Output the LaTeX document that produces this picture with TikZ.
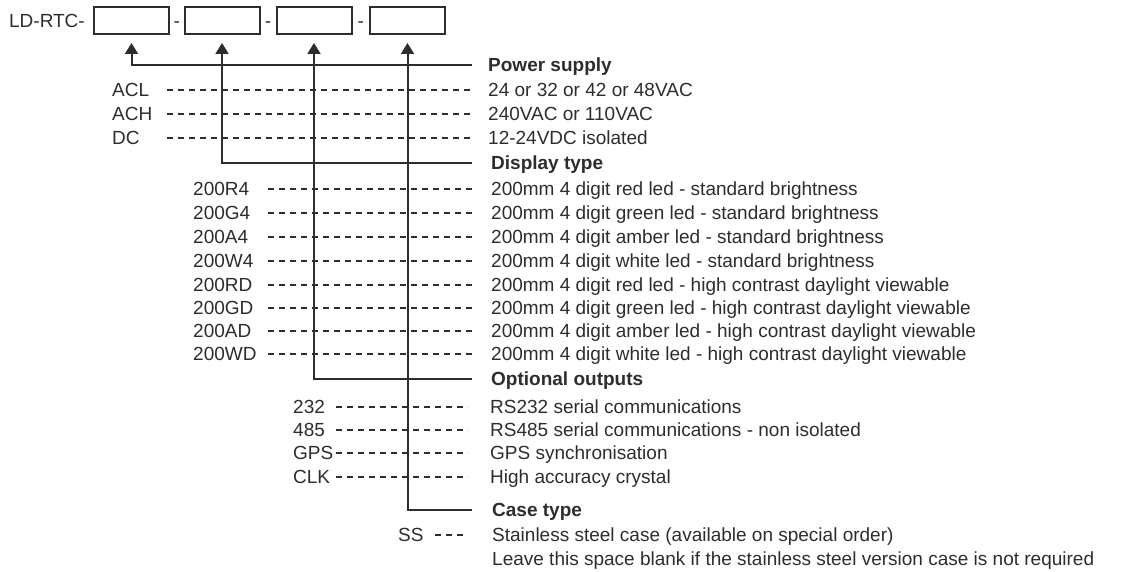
\documentclass[tikz,border=0pt]{standalone}
\usepackage{fontspec}
\setmainfont{Liberation Sans}
\usetikzlibrary{arrows.meta,calc}
\definecolor{ink}{RGB}{45,45,45}
\newcommand\fs{\fontsize{19}{22}\selectfont}
\begin{document}
\begin{tikzpicture}[x=1pt,y=-1pt,
  txt/.style={anchor=west,inner sep=0pt,text height=13.6pt,text depth=0pt,font=\fs,text=ink},
  hdr/.style={txt,font=\fs\bfseries},
  slot/.style={draw=ink,line width=2pt,minimum width=75pt,minimum height=27pt,inner sep=0pt},
  conn/.style={draw=ink,line width=2pt,-{Triangle[width=13pt,length=11pt]},shorten >=8pt},
  dl/.style={draw=ink,line width=1.5pt,dash pattern=on 6pt off 5pt}]
\useasboundingbox (0,0) rectangle (1142,572);
% code slots
\node[slot] (b1) at (131.5,20.5) {};
\node[slot] (b2) at (222,20.5) {};
\node[slot] (b3) at (314,20.5) {};
\node[slot] (b4) at (407.5,20.5) {};
\node[txt,anchor=east] (pre) at ([xshift=-8pt]b1.west) {LD-RTC-};
\node[txt,anchor=center] (h1) at ($(b1.east)!.5!(b2.west)$) {-};
\node[txt,anchor=center] (h2) at ($(b2.east)!.5!(b3.west)$) {-};
\node[txt,anchor=center] (h3) at ($(b3.east)!.5!(b4.west)$) {-};
% headers
\node[hdr] (hps) at (488,65) {Power supply};
\node[hdr] (hdt) at (491,163) {Display type};
\node[hdr] (hoo) at (491,379) {Optional outputs};
\node[hdr] (hct) at (492,510) {Case type};
% connectors
\draw[conn] ([xshift=-16pt]hps.west) -| (b1.south);
\draw[conn] ([xshift=-19pt]hdt.west) -| (b2.south);
\draw[conn] ([xshift=-19pt]hoo.west) -| (b3.south);
\draw[conn] ([xshift=-20pt]hct.west) -| (b4.south);
% power supply
\coordinate (ps0) at (167,0); \coordinate (ps1) at (470,0);
\foreach \n/\lab/\desc/\y in {acl/ACL/{24 or 32 or 42 or 48VAC}/90,
  ach/ACH/{240VAC or 110VAC}/114, dc/DC/{12-24VDC isolated}/138}{
  \node[txt] (l\n) at (112,\y) {\lab};
  \node[txt] (d\n) at (488,\y) {\desc};
  \draw[dl] (l\n.west -| ps0) -- (d\n.west -| ps1);
}
% display type
\coordinate (dt0) at (268,0); \coordinate (dt1) at (473,0);
\foreach \n/\lab/\desc/\y in {
  r4/200R4/{200mm 4 digit red led - standard brightness}/189,
  g4/200G4/{200mm 4 digit green led - standard brightness}/213,
  a4/200A4/{200mm 4 digit amber led - standard brightness}/237,
  w4/200W4/{200mm 4 digit white led - standard brightness}/261,
  rd/200RD/{200mm 4 digit red led - high contrast daylight viewable}/285,
  gd/200GD/{200mm 4 digit green led - high contrast daylight viewable}/308,
  ad/200AD/{200mm 4 digit amber led - high contrast daylight viewable}/331,
  wd/200WD/{200mm 4 digit white led - high contrast daylight viewable}/354}{
  \node[txt] (l\n) at (193,\y) {\lab};
  \node[txt] (d\n) at (491,\y) {\desc};
  \draw[dl] (l\n.west -| dt0) -- (d\n.west -| dt1);
}
% optional outputs
\coordinate (oo0) at (336,0); \coordinate (oo1) at (468,0);
\foreach \n/\lab/\desc/\y in {
  s232/232/{RS232 serial communications}/407,
  s485/485/{RS485 serial communications - non isolated}/430,
  gps/GPS/{GPS synchronisation}/453,
  clk/CLK/{High accuracy crystal}/477}{
  \node[txt] (l\n) at (293,\y) {\lab};
  \node[txt] (d\n) at (490,\y) {\desc};
  \draw[dl] (l\n.west -| oo0) -- (d\n.west -| oo1);
}
% case type
\coordinate (ct0) at (435,0); \coordinate (ct1) at (467,0);
\node[txt] (lss) at (398,535) {SS};
\node[txt] (dss) at (492,535) {Stainless steel case (available on special order)};
\node[txt] (dss2) at (492,559) {Leave this space blank if the stainless steel version case is not required};
\draw[dl] (lss.west -| ct0) -- (dss.west -| ct1);
\end{tikzpicture}
\end{document}
